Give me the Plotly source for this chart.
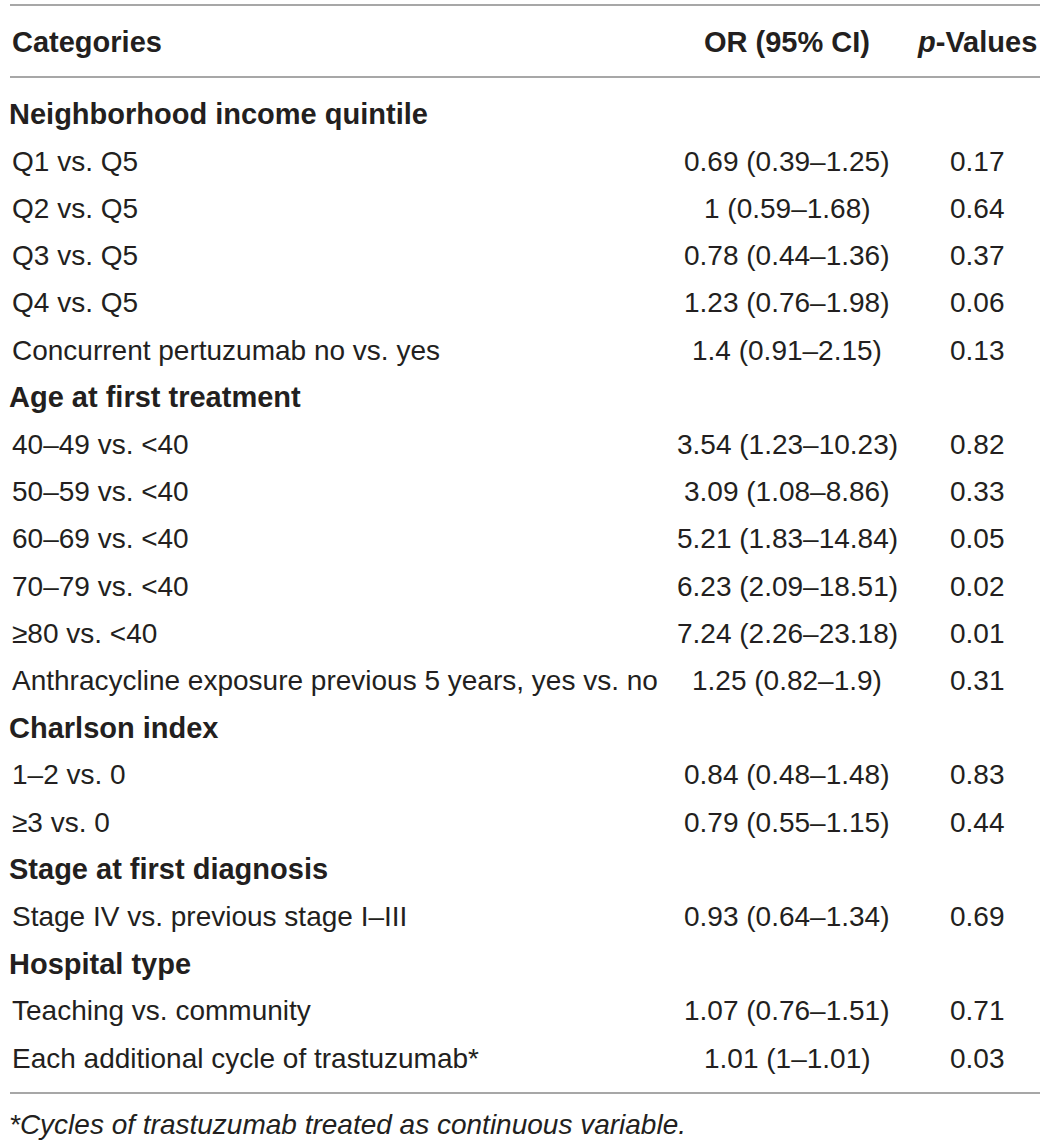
import plotly.graph_objects as go

# table content
col_headers = ["Categories", "OR (95% CI)", "<i>p</i>-Values"]

categories = [
    "Neighborhood income quintile",
    "Q1 vs. Q5",
    "Q2 vs. Q5",
    "Q3 vs. Q5",
    "Q4 vs. Q5",
    "Concurrent pertuzumab no vs. yes",
    "Age at first treatment",
    "40–49 vs. <40",
    "50–59 vs. <40",
    "60–69 vs. <40",
    "70–79 vs. <40",
    "≥80 vs. <40",
    "Anthracycline exposure previous 5 years, yes vs. no",
    "Charlson index",
    "1–2 vs. 0",
    "≥3 vs. 0",
    "Stage at first diagnosis",
    "Stage IV vs. previous stage I–III",
    "Hospital type",
    "Teaching vs. community",
    "Each additional cycle of trastuzumab*",
]
or_ci = [
    "", "0.69 (0.39–1.25)", "1 (0.59–1.68)", "0.78 (0.44–1.36)", "1.23 (0.76–1.98)",
    "1.4 (0.91–2.15)", "", "3.54 (1.23–10.23)", "3.09 (1.08–8.86)", "5.21 (1.83–14.84)",
    "6.23 (2.09–18.51)", "7.24 (2.26–23.18)", "1.25 (0.82–1.9)", "", "0.84 (0.48–1.48)",
    "0.79 (0.55–1.15)", "", "0.93 (0.64–1.34)", "", "1.07 (0.76–1.51)", "1.01 (1–1.01)",
]
p_values = [
    "", "0.17", "0.64", "0.37", "0.06", "0.13", "", "0.82", "0.33", "0.05", "0.02",
    "0.01", "0.31", "", "0.83", "0.44", "", "0.69", "", "0.71", "0.03",
]
section_rows = [0, 6, 13, 16, 18]

footnote = "*Cycles of trastuzumab treated as continuous variable."

W, H = 1044, 1143
FONT = "Liberation Sans"
INK = "#231f20"
RULE = "#8a8a8a"

x_cat, x_sec, x_or, x_p = 10, 7, 787, 977
y_head = 42
y_first = 114
row_h = 47.2
fs = 28
fs_bold = 29

ann = []
ann.append(dict(x=x_cat, y=y_head, text="<b>" + col_headers[0] + "</b>", xanchor="left", size=fs_bold))
ann.append(dict(x=x_or, y=y_head, text="<b>" + col_headers[1] + "</b>", xanchor="center", size=fs_bold))
ann.append(dict(x=x_p, y=y_head, text="<b>" + col_headers[2] + "</b>", xanchor="center", size=fs_bold))

for i, lab in enumerate(categories):
    y = y_first + i * row_h
    txt = lab.replace("<", "&lt;")
    if i in section_rows:
        ann.append(dict(x=x_sec, y=y, text="<b>" + txt + "</b>", xanchor="left", size=fs_bold))
    else:
        ann.append(dict(x=x_cat, y=y, text=txt, xanchor="left", size=fs))
    if or_ci[i]:
        ann.append(dict(x=x_or, y=y, text=or_ci[i], xanchor="center", size=fs))
    if p_values[i]:
        ann.append(dict(x=x_p, y=y, text=p_values[i], xanchor="center", size=fs))

ann.append(dict(x=x_sec, y=1124, text="<i>" + footnote + "</i>", xanchor="left", size=28))

for a in ann:
    size = a.pop("size")
    a.update(xref="x", yref="y", yanchor="middle", showarrow=False,
             font=dict(family=FONT, size=size, color=INK))

rules = [5, 77, 1093]
shapes = [dict(type="line", xref="x", yref="y", x0=10, x1=1040, y0=r, y1=r,
               line=dict(color=RULE, width=1.5)) for r in rules]

fig = go.Figure()
fig.update_layout(
    width=W, height=H,
    margin=dict(l=0, r=0, t=0, b=0),
    paper_bgcolor="white", plot_bgcolor="white",
    xaxis=dict(range=[0, W], visible=False, fixedrange=True),
    yaxis=dict(range=[H, 0], visible=False, fixedrange=True),
    annotations=ann, shapes=shapes, showlegend=False,
)
# drop the default body margin so the figure sits flush with the window
fig.write_html("out.html", config={"displayModeBar": False},
               post_script="document.body.style.margin='0';")
